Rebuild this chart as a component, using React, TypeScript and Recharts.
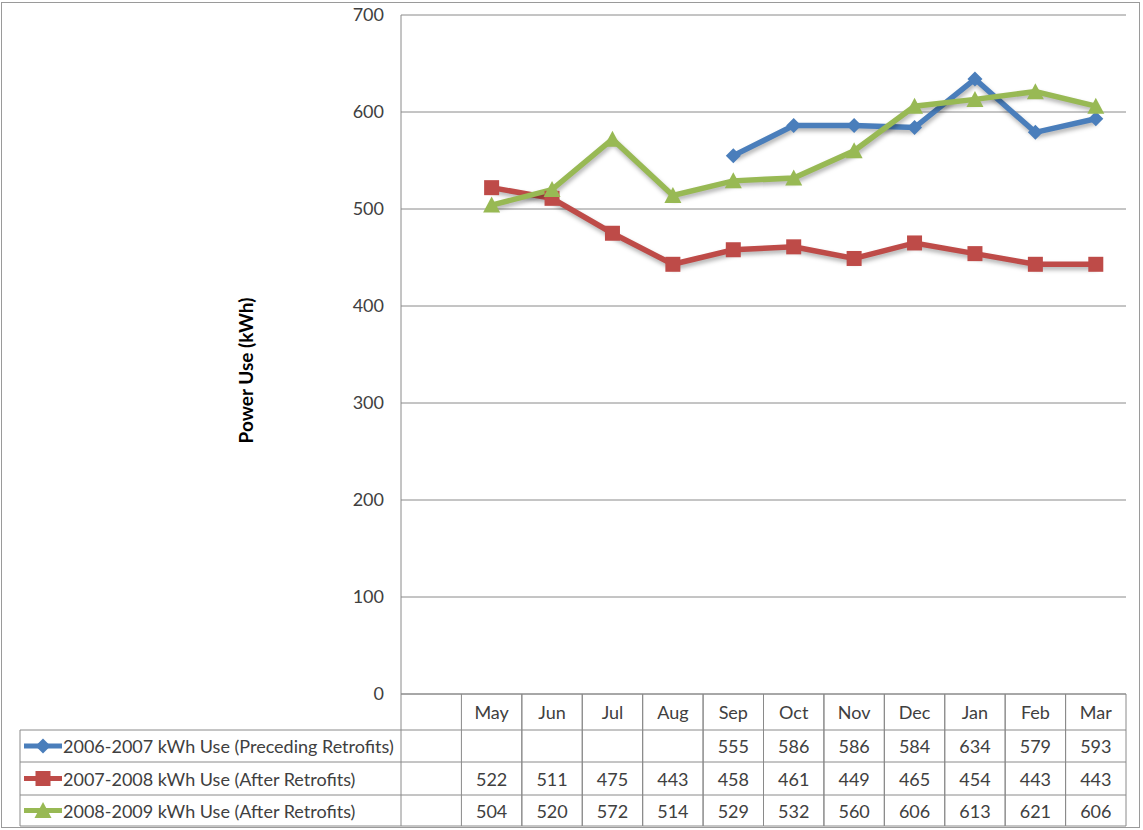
import React from 'react';
import { CartesianGrid, Legend, Line, LineChart, XAxis, YAxis } from 'recharts';

const MONTHS = ['May', 'Jun', 'Jul', 'Aug', 'Sep', 'Oct', 'Nov', 'Dec', 'Jan', 'Feb', 'Mar'];
const USE_0607 = [null, null, null, null, 555, 586, 586, 584, 634, 579, 593];
const USE_0708 = [522, 511, 475, 443, 458, 461, 449, 465, 454, 443, 443];
const USE_0809 = [504, 520, 572, 514, 529, 532, 560, 606, 613, 621, 606];
const SERIES_NAMES = [
  '2006-2007 kWh Use (Preceding Retrofits)',
  '2007-2008 kWh Use (After Retrofits)',
  '2008-2009 kWh Use (After Retrofits)',
];
const SERIES_VALUES = [USE_0607, USE_0708, USE_0809];
const SERIES_COLORS = ['#4a7ebb', '#be4b48', '#98b954'];
const SERIES_MARKERS = ['diamond', 'square', 'triangle'];
const Y_TICKS = [0, 100, 200, 300, 400, 500, 600, 700];

const data = MONTHS.map((month, i) => ({
  month,
  s0: USE_0607[i],
  s1: USE_0708[i],
  s2: USE_0809[i],
}));

const W = 1143;
const H = 830;
const PLOT_LEFT = 401;
const PLOT_RIGHT = 1126;
const COL_W = (PLOT_RIGHT - PLOT_LEFT) / 12;
const ROW_Y = [36, 68, 101, 132]; // row bottoms below the axis line
const GRID = '#8a8a8a';
const FONT = 'Lato, "Open Sans", sans-serif';
const TEXT = '#404040';
const FS = 18;

function Marker({ kind, cx, cy, color }: { kind: string; cx: number; cy: number; color: string }) {
  if (kind === 'diamond') {
    const r = 7.5;
    return <path d={`M${cx},${cy - r}L${cx + r},${cy}L${cx},${cy + r}L${cx - r},${cy}Z`} fill={color} />;
  }
  if (kind === 'square') {
    const r = 7.5;
    return <rect x={cx - r} y={cy - r} width={r * 2} height={r * 2} fill={color} />;
  }
  const r = 8.5;
  return <path d={`M${cx},${cy - r}L${cx + r},${cy + r - 1}L${cx - r},${cy + r - 1}Z`} fill={color} />;
}

const makeDot = (s: number) => (props: any) => {
  const { cx, cy, index, value } = props;
  if (value == null || cy == null) return <g key={`d${s}-${index}`} />;
  return (
    <g key={`d${s}-${index}`}>
      <Marker kind={SERIES_MARKERS[s]} cx={cx} cy={cy} color={SERIES_COLORS[s]} />
    </g>
  );
};

function TableColumn(props: any) {
  const { x, y, payload } = props;
  const i = payload.index;
  const l = x - COL_W / 2;
  const r = x + COL_W / 2;
  const left = i === 0 ? l - COL_W : l;
  const bottom = y + ROW_Y[3];
  return (
    <g>
      {i === 0 && <line x1={left} x2={left} y1={y} y2={bottom} stroke={GRID} />}
      <line x1={l} x2={l} y1={y} y2={bottom} stroke={GRID} />
      <line x1={r} x2={r} y1={y} y2={bottom} stroke={GRID} />
      {ROW_Y.map((dy) => (
        <line key={dy} x1={left} x2={r} y1={y + dy} y2={y + dy} stroke={GRID} />
      ))}
      <text x={x} y={y + 18} textAnchor="middle" dominantBaseline="central" fill={TEXT} fontSize={FS} fontFamily={FONT}>
        {payload.value}
      </text>
      {SERIES_VALUES.map((vals, s) =>
        vals[i] == null ? null : (
          <text
            key={s}
            x={x}
            y={y + (ROW_Y[s] + ROW_Y[s + 1]) / 2}
            textAnchor="middle"
            dominantBaseline="central"
            fill={TEXT}
            fontSize={FS}
            fontFamily={FONT}
          >
            {vals[i]}
          </text>
        ),
      )}
    </g>
  );
}

function TableLegend(props: any) {
  const payload = props.payload || [];
  const top = 694 + ROW_Y[0] - 720;
  return (
    <svg width={420} height={110} style={{ display: 'block', overflow: 'visible' }}>
      <line x1={20} x2={PLOT_LEFT} y1={top} y2={top} stroke={GRID} />
      <line x1={20} x2={20} y1={top} y2={694 + ROW_Y[3] - 720} stroke={GRID} />
      {SERIES_NAMES.map((name, s) => {
        const y0 = 694 + ROW_Y[s] - 720;
        const y1 = 694 + ROW_Y[s + 1] - 720;
        const cy = (y0 + y1) / 2;
        const color = payload[s]?.color || SERIES_COLORS[s];
        return (
          <g key={s}>
            <line x1={20} x2={PLOT_LEFT} y1={y1} y2={y1} stroke={GRID} />
            <line x1={24} x2={62} y1={cy} y2={cy} stroke={color} strokeWidth={5} />
            <Marker kind={SERIES_MARKERS[s]} cx={43} cy={cy} color={color} />
            <text x={63} y={cy} dominantBaseline="central" fill={TEXT} fontSize={FS} fontFamily={FONT}>
              {payload[s]?.value || name}
            </text>
          </g>
        );
      })}
    </svg>
  );
}

export default function App() {
  return (
    <div style={{ position: 'fixed', left: 0, top: 0, width: W, height: H, background: '#fff' }}>
      <style>{`.recharts-line-curve { filter: drop-shadow(1px 3px 2px rgba(0,0,0,0.3)); }`}</style>
      <div
        style={{
          position: 'absolute',
          left: 1,
          top: 2,
          width: 1137,
          height: 824,
          border: '1px solid #9a9a9a',
        }}
      />
      <LineChart width={W} height={H} data={data} margin={{ top: 15, right: W - PLOT_RIGHT, bottom: 100, left: 0 }}>
        <CartesianGrid vertical={false} stroke={GRID} />
        <XAxis
          dataKey="month"
          interval={0}
          height={36}
          tickLine={false}
          tickSize={0}
          tickMargin={0}
          padding={{ left: COL_W * 1.5, right: COL_W * 0.5 }}
          axisLine={{ stroke: GRID }}
          tick={<TableColumn />}
        />
        <YAxis
          width={PLOT_LEFT}
          domain={[0, 700]}
          ticks={Y_TICKS}
          interval={0}
          tickLine={false}
          tickSize={6}
          tickMargin={11}
          axisLine={{ stroke: GRID }}
          tick={{ fill: TEXT, fontSize: FS, fontFamily: FONT }}
          label={{
            content: (p: any) => {
              const vb = p.viewBox || { x: 0, y: 15, height: 679 };
              const cx = vb.x + 245;
              const cy = vb.y + vb.height / 2 + 16;
              return (
                <text
                  x={cx}
                  y={cy}
                  transform={`rotate(-90 ${cx} ${cy})`}
                  textAnchor="middle"
                  dominantBaseline="central"
                  fontSize={19}
                  fontWeight="bold"
                  fontFamily={FONT}
                  fill="#000"
                >
                  Power Use (kWh)
                </text>
              );
            },
          }}
        />
        <Legend
          layout="vertical"
          align="center"
          verticalAlign="middle"
          wrapperStyle={{ left: 0, top: 720, width: 420, height: 110 }}
          content={<TableLegend />}
        />
        {SERIES_NAMES.map((name, s) => (
          <Line
            key={name}
            name={name}
            dataKey={`s${s}`}
            stroke={SERIES_COLORS[s]}
            strokeWidth={5.5}
            dot={makeDot(s)}
            activeDot={false}
            isAnimationActive={false}
          />
        ))}
      </LineChart>
    </div>
  );
}
